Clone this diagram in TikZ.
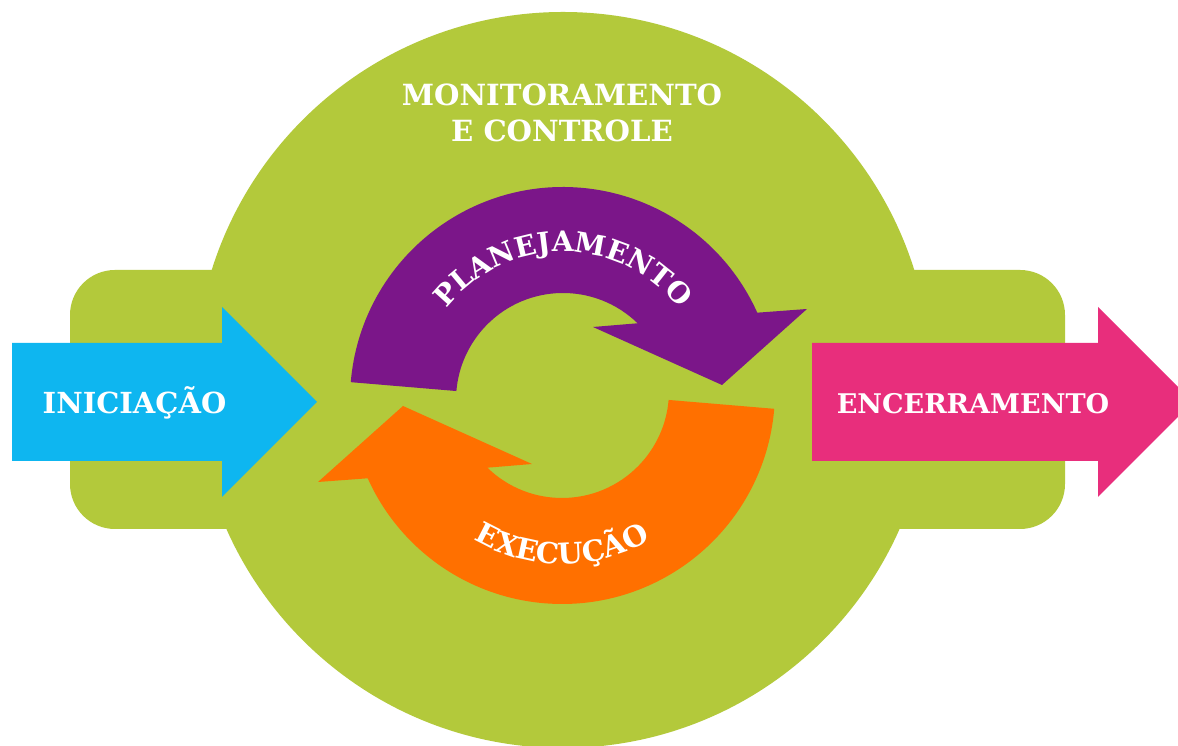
\documentclass[tikz,border=0pt]{standalone}
\usepackage{fontspec}
\setmainfont{DejaVu Serif}
\usetikzlibrary{decorations.text}

\definecolor{leafgreen}{RGB}{179,201,59}
\definecolor{planpurple}{RGB}{123,22,137}
\definecolor{execorange}{RGB}{255,112,0}
\definecolor{initblue}{RGB}{14,182,240}
\definecolor{closepink}{RGB}{232,46,124}

\begin{document}
\begin{tikzpicture}[x=0.02cm, y=0.02cm,
  phase/.style={text=white, inner sep=0pt, font=\bfseries\fontsize{16.5}{19}\selectfont}]

\clip (0,0) rectangle (1178,746);
\fill [white] (0,0) rectangle (1178,746);

% background
\fill [leafgreen, rounded corners=0.9cm] (70,217) rectangle (1065,476);
\fill [leafgreen] (563,366) circle [radius=368];

% side arrows
\fill [initblue] (12,403) -- (222,403) -- (222,439) -- (317,344) -- (222,249) -- (222,285) -- (12,285) -- cycle;
\fill [closepink] (812,403) -- (1098,403) -- (1098,439) -- (1193,344) -- (1098,249) -- (1098,285) -- (812,285) -- cycle;

% cycle arrows
\coordinate (pc) at (563,346);
\coordinate (oc) at (562,355);
\fill [planpurple] ([shift={(175.2:213)}]pc) arc [start angle=175.2, end angle=24.2, radius=213]
  -- (807,437) -- (722,361) -- (593,419) -- ([shift={(45.8:107)}]pc)
  arc [start angle=45.8, end angle=175.2, radius=107] -- cycle;
\fill [execorange] ([shift={(-4.8:213)}]oc) arc [start angle=-4.8, end angle=-155.8, radius=213]
  -- (318,264) -- (403,340) -- (532,282) -- ([shift={(-134.2:107)}]oc)
  arc [start angle=-134.2, end angle=-4.8, radius=107] -- cycle;

\path [decorate, decoration={text along path, text align=center,
  text={|\bfseries\fontsize{16}{19}\selectfont\color{white}|PLANEJAMENTO}}]
  ([shift={(155:148)}]pc) arc [start angle=155, end angle=25, radius=148];
\path [decorate, decoration={text along path, text align=center,
  text={|\bfseries\fontsize{16.5}{19}\selectfont\color{white}|EXECUÇÃO}}]
  ([shift={(-150:173)}]oc) arc [start angle=-150, end angle=-30, radius=173];

% labels
\node [phase, anchor=base] (inic) at (134.5,332) {INICIAÇÃO};
\node [phase, anchor=base, font=\bfseries\fontsize{15.4}{19}\selectfont] (ence) at (973,332) {ENCERRAMENTO};
\node [phase, align=center, font=\bfseries\fontsize{16.6}{20.4}\selectfont] (moni) at (562,633.5) {MONITORAMENTO\\E CONTROLE};

\end{tikzpicture}
\end{document}
